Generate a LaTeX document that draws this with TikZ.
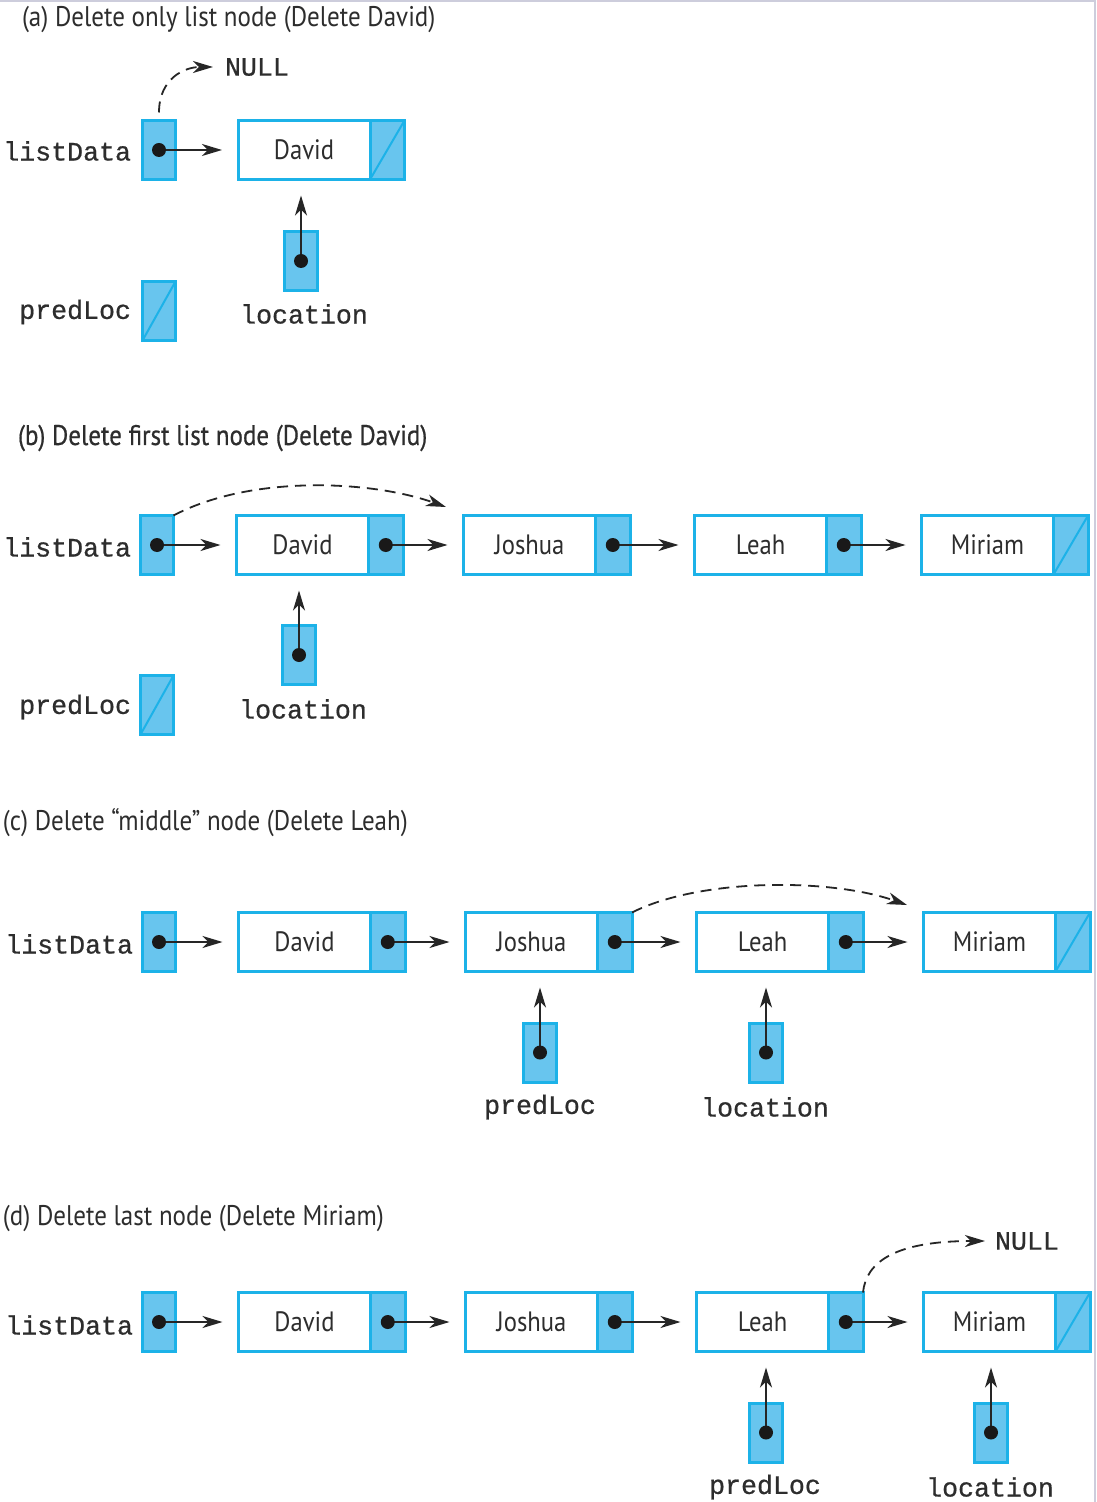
\documentclass[tikz,border=0pt]{standalone}
\usepackage{fontspec}
\usetikzlibrary{arrows.meta}
\newfontfamily\sansf{PT Sans}[FakeStretch=0.88]
\newfontfamily\sansbf{PT Sans}[FakeStretch=0.88, FakeBold=0.6]
\newfontfamily\monof{Liberation Mono}[FakeBold=0.7]
\newcommand\nodef{\sansf\fontsize{14}{16}\selectfont}
\newcommand\titlef{\sansf\fontsize{14.2}{16}\selectfont}
\newcommand\titlebf{\sansbf\fontsize{14.2}{16}\selectfont}
\newcommand\monolabf{\monof\fontsize{13.3}{16}\selectfont}
\definecolor{bblue}{RGB}{28,178,232}
\definecolor{bfill}{RGB}{104,197,238}
\definecolor{txt}{RGB}{45,45,45}
\definecolor{edge}{RGB}{205,205,220}
\begin{document}
\begin{tikzpicture}[x=0.5pt,y=-0.5pt,
  every node/.style={outer sep=0pt},
  datafield/.style={draw=bblue, line width=1.5pt, fill=white, minimum width=66pt, minimum height=29.5pt, inner sep=0pt, font=\nodef, text=txt},
  ptrfield/.style={draw=bblue, line width=1.5pt, fill=bfill, minimum width=17.25pt, minimum height=29.5pt, inner sep=0pt},
  varbox/.style={draw=bblue, line width=1.5pt, fill=bfill, minimum width=16.5pt, minimum height=29.5pt, inner sep=0pt},
  nullslash/.style={path picture={\draw[bblue, line width=1pt] (path picture bounding box.south west) -- (path picture bounding box.north east);}},
  dotn/.style={circle, fill=black!90, minimum size=7pt, inner sep=0pt},
  monolab/.style={font=\monolabf, text=txt, inner sep=0pt},
  title/.style={font=\titlef, text=txt, anchor=west, inner sep=0pt},
  link/.style={line width=0.8pt, draw=black!85, -{Stealth[length=10pt,width=6pt,inset=3pt]}, shorten >=8pt},
  dasharrow/.style={line width=0.9pt, draw=black!85, dash pattern=on 5.5pt off 3.5pt, -{Stealth[length=10pt,width=6pt,inset=3pt]}}
]
\useasboundingbox (0,0) rectangle (1096,1502);
\fill[white] (0,0) rectangle (1096,1502);
\draw[edge, line width=1pt] (0,1) -- (1096,1);
\draw[edge, line width=1pt] (1095,0) -- (1095,1502);

% ---------------- (a) ----------------
\node[title] (ta) at (22,20) {(a) Delete only list node (Delete David)};
\node[varbox] (aL) at (159,150) {};
\node[monolab, anchor=east] (aLlab) at (131,151) {listData};
\node[datafield] (aD) at (304,150) {David};
\node[ptrfield, nullslash, anchor=west] (aDp) at (aD.east) {};
\draw[link] (aL.center) -- (aD.west);
\node[dotn] (aLd) at (aL.center) {};
\node[monolab, anchor=west] (aNull) at (225,67) {NULL};
\draw[dasharrow, shorten >=6pt, shorten <=4pt] (aL.north) .. controls (159,78) and (185,67) .. (aNull.west);
\node[varbox] (aLoc) at (301,261) {};
\draw[link] (aLoc.center) -- (aLoc.center |- aD.south);
\node[dotn] (aLocd) at (aLoc.center) {};
\node[monolab] (aLoclab) at (304,314) {location};
\node[varbox, nullslash] (aP) at (159,311) {};
\node[monolab, anchor=east] (aPlab) at (131,312) {predLoc};

% ---------------- (b) ----------------
\node[title, font=\titlebf] (tb) at (18,438) {(b) Delete first list node (Delete David)};
\node[varbox] (bL) at (157,545) {};
\node[monolab, anchor=east] (bLlab) at (131,547) {listData};
\node[datafield] (bD) at (302.5,545) {David};
\node[ptrfield, anchor=west] (bDp) at (bD.east) {};
\node[datafield] (bJ) at (529.5,545) {Joshua};
\node[ptrfield, anchor=west] (bJp) at (bJ.east) {};
\node[datafield] (bE) at (760.5,545) {Leah};
\node[ptrfield, anchor=west] (bEp) at (bE.east) {};
\node[datafield] (bM) at (987.5,545) {Miriam};
\node[ptrfield, nullslash, anchor=west] (bMp) at (bM.east) {};
\draw[link] (bL.center) -- (bD.west);
\draw[link] (bDp.center) -- (bJ.west);
\draw[link] (bJp.center) -- (bE.west);
\draw[link] (bEp.center) -- (bM.west);
\node[dotn] (bLd) at (bL.center) {};
\node[dotn] (bDd) at (bDp.center) {};
\node[dotn] (bJd) at (bJp.center) {};
\node[dotn] (bEd) at (bEp.center) {};
\coordinate (bTip) at (446,507);
\draw[dasharrow] (bL.north east) .. controls (250,475) and (370,480) .. (bTip);
\node[varbox] (bLoc) at (299,655) {};
\draw[link] (bLoc.center) -- (bLoc.center |- bD.south);
\node[dotn] (bLocd) at (bLoc.center) {};
\node[monolab] (bLoclab) at (303,709) {location};
\node[varbox, nullslash] (bP) at (157,705) {};
\node[monolab, anchor=east] (bPlab) at (131,707) {predLoc};

% ---------------- (c) ----------------
\node[title] (tc) at (3,823) {(c) Delete “middle” node (Delete Leah)};
\node[varbox] (cL) at (159,942) {};
\node[monolab, anchor=east] (cLlab) at (133,944) {listData};
\node[datafield] (cD) at (304.5,942) {David};
\node[ptrfield, anchor=west] (cDp) at (cD.east) {};
\node[datafield] (cJ) at (531.5,942) {Joshua};
\node[ptrfield, anchor=west] (cJp) at (cJ.east) {};
\node[datafield] (cE) at (762.5,942) {Leah};
\node[ptrfield, anchor=west] (cEp) at (cE.east) {};
\node[datafield] (cM) at (989.5,942) {Miriam};
\node[ptrfield, nullslash, anchor=west] (cMp) at (cM.east) {};
\draw[link] (cL.center) -- (cD.west);
\draw[link] (cDp.center) -- (cJ.west);
\draw[link] (cJp.center) -- (cE.west);
\draw[link] (cEp.center) -- (cM.west);
\node[dotn] (cLd) at (cL.center) {};
\node[dotn] (cDd) at (cDp.center) {};
\node[dotn] (cJd) at (cJp.center) {};
\node[dotn] (cEd) at (cEp.center) {};
\coordinate (cTip) at (907,905);
\draw[dasharrow] (cJp.north east) .. controls (700,878) and (830,878) .. (cTip);
\node[varbox] (cP) at (540,1052.5) {};
\draw[link] (cP.center) -- (cP.center |- cJ.south);
\node[dotn] (cPd) at (cP.center) {};
\node[monolab] (cPlab) at (540,1107) {predLoc};
\node[varbox] (cLoc) at (766,1052.5) {};
\draw[link] (cLoc.center) -- (cLoc.center |- cE.south);
\node[dotn] (cLocd) at (cLoc.center) {};
\node[monolab] (cLoclab) at (765,1107) {location};

% ---------------- (d) ----------------
\node[title] (td) at (3,1218) {(d) Delete last node (Delete Miriam)};
\node[varbox] (dL) at (159,1322) {};
\node[monolab, anchor=east] (dLlab) at (133,1325) {listData};
\node[datafield] (dD) at (304.5,1322) {David};
\node[ptrfield, anchor=west] (dDp) at (dD.east) {};
\node[datafield] (dJ) at (531.5,1322) {Joshua};
\node[ptrfield, anchor=west] (dJp) at (dJ.east) {};
\node[datafield] (dE) at (762.5,1322) {Leah};
\node[ptrfield, anchor=west] (dEp) at (dE.east) {};
\node[datafield] (dM) at (989.5,1322) {Miriam};
\node[ptrfield, nullslash, anchor=west] (dMp) at (dM.east) {};
\draw[link] (dL.center) -- (dD.west);
\draw[link] (dDp.center) -- (dJ.west);
\draw[link] (dJp.center) -- (dE.west);
\draw[link] (dEp.center) -- (dM.west);
\node[dotn] (dLd) at (dL.center) {};
\node[dotn] (dDd) at (dDp.center) {};
\node[dotn] (dJd) at (dJp.center) {};
\node[dotn] (dEd) at (dEp.center) {};
\node[monolab, anchor=west] (dNull) at (995,1241) {NULL};
\draw[dasharrow, shorten >=5pt] (dEp.north east) .. controls (866,1262) and (895,1241) .. (dNull.west);
\node[varbox] (dP) at (766,1432.5) {};
\draw[link] (dP.center) -- (dP.center |- dE.south);
\node[dotn] (dPd) at (dP.center) {};
\node[monolab] (dPlab) at (765,1487) {predLoc};
\node[varbox] (dLoc) at (991,1432.5) {};
\draw[link] (dLoc.center) -- (dLoc.center |- dM.south);
\node[dotn] (dLocd) at (dLoc.center) {};
\node[monolab] (dLoclab) at (990,1487) {location};
\end{tikzpicture}
\end{document}
